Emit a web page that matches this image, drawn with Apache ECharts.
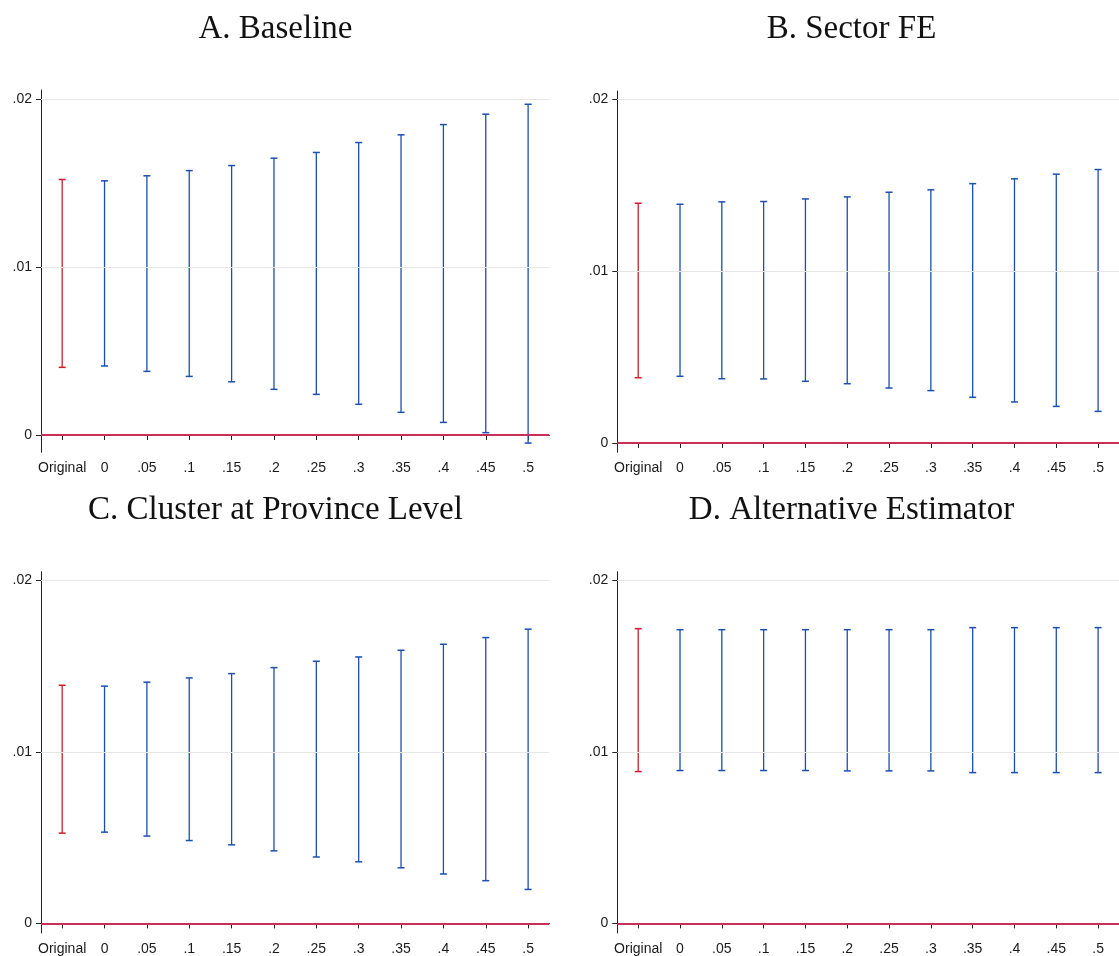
<!DOCTYPE html>
<html>
<head>
<meta charset="utf-8">
<style>
  html, body { margin: 0; padding: 0; background: #ffffff; }
  #chart { width: 1119px; height: 956px; }
</style>
<script src="https://cdn.jsdelivr.net/npm/echarts@6/dist/echarts.min.js"></script>
</head>
<body>
<div id="chart"></div>
<script>
// Category labels along the x axis (share of the sample dropped)
const categories = ['Original', '0', '.05', '.1', '.15', '.2', '.25', '.3', '.35', '.4', '.45', '.5'];

// Panel titles
const panelTitles = ['A. Baseline', 'B. Sector FE', 'C. Cluster at Province Level', 'D. Alternative Estimator'];

// Y-axis tick values
const yTicks = [0, 0.01, 0.02];

// Confidence interval bounds, one pair of arrays per panel
const baselineLower = [0.00403, 0.00411, 0.00379, 0.00349, 0.00317, 0.00272, 0.00242, 0.00183, 0.00135, 0.00075, 0.00014, -0.00048];
const baselineUpper = [0.01522, 0.01514, 0.01544, 0.01575, 0.01605, 0.01649, 0.01683, 0.01742, 0.01788, 0.01849, 0.01911, 0.01970];

const sectorLower = [0.00380, 0.00388, 0.00374, 0.00373, 0.00359, 0.00345, 0.00320, 0.00305, 0.00266, 0.00239, 0.00213, 0.00184];
const sectorUpper = [0.01395, 0.01389, 0.01403, 0.01405, 0.01420, 0.01432, 0.01459, 0.01473, 0.01509, 0.01537, 0.01564, 0.01591];

const provinceLower = [0.00526, 0.00532, 0.00509, 0.00483, 0.00458, 0.00423, 0.00387, 0.00359, 0.00324, 0.00288, 0.00249, 0.00198];
const provinceUpper = [0.01388, 0.01383, 0.01406, 0.01431, 0.01456, 0.01491, 0.01528, 0.01553, 0.01592, 0.01627, 0.01666, 0.01715];

const altLower = [0.00885, 0.00891, 0.00891, 0.00891, 0.00891, 0.00889, 0.00889, 0.00889, 0.00879, 0.00879, 0.00879, 0.00879];
const altUpper = [0.01718, 0.01712, 0.01712, 0.01712, 0.01712, 0.01712, 0.01712, 0.01712, 0.01724, 0.01724, 0.01724, 0.01724];

const panels = [
  { lower: baselineLower, upper: baselineUpper, grid: { left: 41, top: 90, width: 508.3, height: 362.3 }, yMin: -0.00103, yMax: 0.02055, title: [275.5, 29] },
  { lower: sectorLower, upper: sectorUpper, grid: { left: 617.3, top: 91, width: 508.3, height: 361.3 }, yMin: -0.00054, yMax: 0.02048, title: [851.5, 29] },
  { lower: provinceLower, upper: provinceUpper, grid: { left: 41, top: 571.7, width: 508.3, height: 361.6 }, yMin: -0.00056, yMax: 0.0205, title: [275.5, 510] },
  { lower: altLower, upper: altUpper, grid: { left: 617.3, top: 571.7, width: 508.3, height: 361.6 }, yMin: -0.00056, yMax: 0.0205, title: [851.5, 510] }
];

const RED = '#cc1f2a';
const BLUE = '#1c4fb0';
const ZERO_LINE = '#c8305a';
const AXIS = '#222222';
const GRID_LINE = '#e6e6e6';
const LABEL_FONT = '"Liberation Sans", Arial, sans-serif';

function fmtTick(v) {
  if (v === 0) return '0';
  return String(+v.toFixed(4)).replace(/^0\./, '.').replace(/^-0\./, '-.');
}

// Draws one confidence interval: vertical span with caps at both ends
function renderBar(params, api) {
  const idx = api.value(0);
  const lo = api.coord([idx, api.value(1)]);
  const hi = api.coord([idx, api.value(2)]);
  const half = 3.5;
  const color = idx === 0 ? RED : BLUE;
  return {
    type: 'group',
    children: [
      { type: 'line', shape: { x1: lo[0], y1: lo[1], x2: hi[0], y2: hi[1] }, style: { stroke: color, lineWidth: 1.3 } },
      { type: 'line', shape: { x1: hi[0] - half, y1: hi[1], x2: hi[0] + half, y2: hi[1] }, style: { stroke: color, lineWidth: 1.5 } },
      { type: 'line', shape: { x1: lo[0] - half, y1: lo[1], x2: lo[0] + half, y2: lo[1] }, style: { stroke: color, lineWidth: 1.5 } }
    ]
  };
}

const grids = [], xAxes = [], yAxes = [], series = [], graphics = [];

panels.forEach((p, i) => {
  grids.push(Object.assign({ containLabel: false }, p.grid));

  xAxes.push({
    type: 'category',
    gridIndex: i,
    data: categories,
    boundaryGap: true,
    axisLine: { show: true, lineStyle: { color: AXIS, width: 1 } },
    axisTick: { show: true, alignWithLabel: true, length: 5, lineStyle: { color: AXIS } },
    axisLabel: { color: '#1a1a1a', fontSize: 14, fontFamily: LABEL_FONT, margin: 9, interval: 0 },
    splitLine: { show: false }
  });

  yAxes.push({
    type: 'value',
    gridIndex: i,
    min: p.yMin,
    max: p.yMax,
    axisLine: { show: true, onZero: false, lineStyle: { color: AXIS, width: 1 } },
    axisTick: { show: true, length: 5, customValues: yTicks, lineStyle: { color: AXIS } },
    axisLabel: { color: '#1a1a1a', fontSize: 14, fontFamily: LABEL_FONT, margin: 9, customValues: yTicks, formatter: fmtTick },
    splitLine: { show: false }
  });

  const data = categories.map((c, k) => [k, p.lower[k], p.upper[k]]);

  series.push({
    type: 'custom',
    xAxisIndex: i,
    yAxisIndex: i,
    data: data,
    encode: { x: 0, y: [1, 2] },
    renderItem: renderBar,
    silent: true,
    z: 3,
    markLine: {
      silent: true,
      symbol: 'none',
      label: { show: false },
      animation: false,
      data: [
        { yAxis: 0.01, lineStyle: { color: GRID_LINE, width: 1, type: 'solid' } },
        { yAxis: 0.02, lineStyle: { color: GRID_LINE, width: 1, type: 'solid' } },
        { yAxis: 0, lineStyle: { color: ZERO_LINE, width: 1.8, type: 'solid' } }
      ]
    }
  });

  graphics.push({
    type: 'text',
    x: p.title[0],
    y: p.title[1],
    style: {
      text: panelTitles[i],
      font: '33px "Liberation Serif", "Times New Roman", serif',
      fill: '#111111',
      textAlign: 'center',
      textVerticalAlign: 'middle'
    }
  });
});

const chart = echarts.init(document.getElementById('chart'), null, { renderer: 'canvas' });
chart.setOption({
  backgroundColor: '#ffffff',
  animation: false,
  grid: grids,
  xAxis: xAxes,
  yAxis: yAxes,
  series: series,
  graphic: graphics
});
</script>
</body>
</html>
